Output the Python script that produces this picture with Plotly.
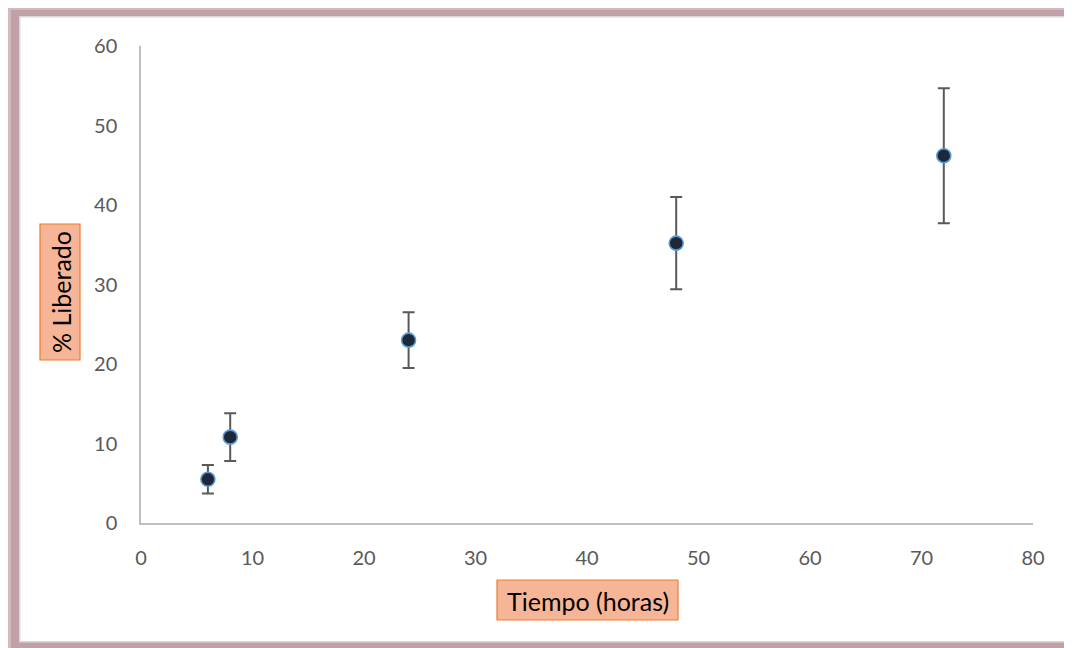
import plotly.graph_objects as go

# Data
tiempo = [6, 8, 24, 48, 72]
liberado = [5.5, 10.8, 23.0, 35.2, 46.2]
error = [1.8, 3.0, 3.5, 5.8, 8.5]
x_ticks = [0, 10, 20, 30, 40, 50, 60, 70, 80]
y_ticks = [0, 10, 20, 30, 40, 50, 60]

OFF = 8  # page body margin
W, H = 1072 - OFF, 648 - OFF
ML, MR, MT, MB = 141 - OFF, 39, 46 - OFF, 125
PW, PH = W - ML - MR, H - MT - MB

def px(x):
    return (x - OFF - ML) / PW

def py(y):
    return (H - MB - (y - OFF)) / PH

fig = go.Figure()
fig.add_trace(go.Scatter(
    x=tiempo, y=liberado, mode="markers",
    marker=dict(size=14, color="#1e2838", line=dict(color="#5b9bd5", width=1.6)),
    error_y=dict(type="data", array=error, visible=True, color="#595959",
                 thickness=2, width=6),
    showlegend=False,
))

shapes = [
    dict(type="rect", xref="paper", yref="paper", x0=px(8), x1=px(1100), y0=py(8), y1=py(660),
         fillcolor="#d4bac0", line=dict(width=0), layer="below"),
    dict(type="rect", xref="paper", yref="paper", x0=px(11), x1=px(1100), y0=py(10), y1=py(660),
         fillcolor="#c1a0a7", line=dict(width=0), layer="below"),
    dict(type="rect", xref="paper", yref="paper", x0=px(19), x1=px(1100), y0=py(16), y1=py(642.5),
         fillcolor="#d9d9d9", line=dict(width=0), layer="below"),
    dict(type="rect", xref="paper", yref="paper", x0=px(20.5), x1=px(1100), y0=py(17.5), y1=py(641),
         fillcolor="white", line=dict(width=0), layer="below"),
    dict(type="rect", xref="paper", yref="paper", x0=px(497), x1=px(678), y0=py(580), y1=py(620),
         fillcolor="#f6b596", line=dict(color="#ed7d31", width=1.2), layer="below"),
    dict(type="rect", xref="paper", yref="paper", x0=px(40), x1=px(80), y0=py(224), y1=py(360),
         fillcolor="#f6b596", line=dict(color="#ed7d31", width=1.2), layer="below"),
]

annotations = [
    dict(text="Tiempo (horas)", xref="paper", yref="paper", x=px(587.5), y=py(601),
         showarrow=False, font=dict(family="Lato, Liberation Sans", size=25, color="#000000"),
         xanchor="center", yanchor="middle"),
    dict(text="% Liberado", xref="paper", yref="paper", x=px(61), y=py(292),
         showarrow=False, textangle=-90,
         font=dict(family="Lato, Liberation Sans", size=25, color="#000000"),
         xanchor="center", yanchor="middle"),
]

fig.update_layout(
    width=W, height=H,
    margin=dict(l=ML, r=MR, t=MT, b=MB),
    paper_bgcolor="white",
    plot_bgcolor="rgba(0,0,0,0)",
    font=dict(family="Lato, Liberation Sans", size=20, color="#595959"),
    shapes=shapes,
    annotations=annotations,
    xaxis=dict(range=[0, 80], tickvals=x_ticks, showgrid=False, zeroline=False,
               showline=True, linecolor="#bfbfbf", linewidth=1.5,
               ticks="outside", ticklen=16, tickcolor="rgba(0,0,0,0)",
               tickfont=dict(size=20, color="#595959")),
    yaxis=dict(range=[0, 60], tickvals=y_ticks, showgrid=False, zeroline=False,
               showline=True, linecolor="#bfbfbf", linewidth=1.5,
               ticks="outside", ticklen=18, tickcolor="rgba(0,0,0,0)",
               tickfont=dict(size=20, color="#595959")),
)

fig.write_html("out.html")
